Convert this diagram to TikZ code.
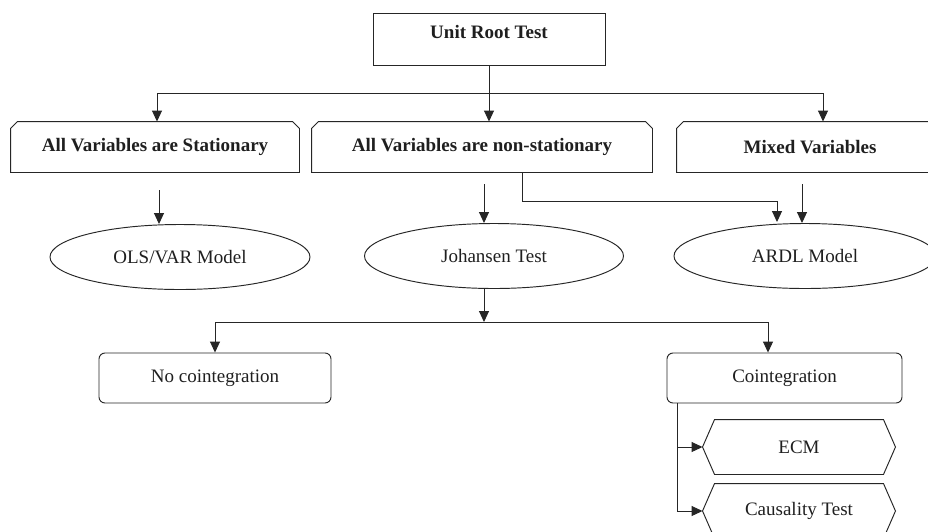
\documentclass[tikz,border=0pt]{standalone}
\usepackage{fontspec}
\setmainfont{Liberation Serif}
\usetikzlibrary{arrows.meta,shapes.geometric,calc}

% outline with the two top corners cut off
\newcommand\chamferoutline[1]{%
  \draw (#1.south west) -- ($(#1.north west)+(0,7)$) -- ($(#1.north west)+(7,0)$)
    -- ($(#1.north east)+(-7,0)$) -- ($(#1.north east)+(0,7)$) -- (#1.south east) -- cycle;}
% outline pointed on the left and on the right
\newcommand\hexoutline[1]{%
  \draw (#1.west) -- ($(#1.north west)+(12,0)$) -- ($(#1.north east)+(-12,0)$)
    -- (#1.east) -- ($(#1.south east)+(-12,0)$) -- ($(#1.south west)+(12,0)$) -- cycle;}

\begin{document}
\begin{tikzpicture}[x=1pt,y=-1pt,line width=0.95pt,draw=black!85,
  every node/.style={inner sep=0pt,text=black!88},
  txt/.style={font=\fontsize{19}{22}\selectfont},
  btxt/.style={font=\fontsize{19}{22}\selectfont\bfseries},
  topbox/.style={btxt,minimum height=50pt},
  oval/.style={txt,draw,ellipse,minimum height=65pt},
  roundbox/.style={txt,draw,rounded corners=6pt,minimum height=50pt},
  hexbox/.style={txt,minimum width=192pt,minimum height=54pt},
  arr/.style={-{Triangle[length=11pt,width=10pt]}}]

\fill[white] (0,0) rectangle (928,531);
\useasboundingbox (0,0) rectangle (928,531);

% first level
\node[btxt,draw,minimum width=232pt,text height=25pt,text depth=27pt] (root) at (489,39) {Unit Root Test};

\node[topbox,minimum width=288pt] (st)  at (155,147) {All Variables are Stationary};
\node[topbox,minimum width=340pt] (nst) at (482,147) {All Variables are non-stationary};
\node[topbox,minimum width=266pt] (mx)  at (810,147) {Mixed Variables};
\chamferoutline{st}
\chamferoutline{nst}
\chamferoutline{mx}

% models
\node[oval,minimum width=260pt] (ols)  at (180,257) {OLS/VAR Model};
\node[oval,minimum width=259pt] (joh)  at (494,256) {Johansen Test};
\node[oval,minimum width=262pt] (ardl) at (805,256) {ARDL Model};

% outcomes of the Johansen test
\node[roundbox,minimum width=232pt] (nc) at (215,378) {No cointegration};
\node[roundbox,minimum width=235pt] (co) at (784.5,378) {Cointegration};

\node[hexbox] (ecm) at (799,447) {ECM};
\node[hexbox] (cau) at (799,511) {Causality Test};
\hexoutline{ecm}
\hexoutline{cau}

% split below the unit root test
\coordinate (hl) at (157,93);
\coordinate (hr) at (823,93);
\draw (hl) -- (hr);
\draw[arr] (root.south) -- (root.south |- nst.north);
\draw[arr] (hl) -- (hl |- st.north);
\draw[arr] (hr) -- (hr |- mx.north);

% from the three cases to the models
\coordinate (s1) at (159,190);
\coordinate (s2) at (484,184);
\coordinate (s3) at (802,184);
\coordinate (k1) at (522,201);
\coordinate (k2) at (777,201);
\draw[arr] (s1) -- (s1 |- ols.north);
\draw[arr] (s2) -- (s2 |- joh.north);
\draw[arr] (s3) -- (s3 |- ardl.north);
\draw[arr] (nst.south -| k1) -- (k1) -- (k2) -- ($(k2 |- ardl.north)+(0,-1)$);

% split below the Johansen test
\coordinate (jl) at (215,322);
\coordinate (jr) at (768,322);
\draw[arr] (joh.south -| s2) -- (s2 |- jl);
\draw (jl) -- (jr);
\draw[arr] (jl) -- (jl |- nc.north);
\draw[arr] (jr) -- (jr |- co.north);

% follow-ups of cointegration
\coordinate (cv) at (677,403);
\draw[arr] (co.south -| cv) |- (ecm.west);
\draw[arr] (co.south -| cv) |- (cau.west);
\end{tikzpicture}
\end{document}
